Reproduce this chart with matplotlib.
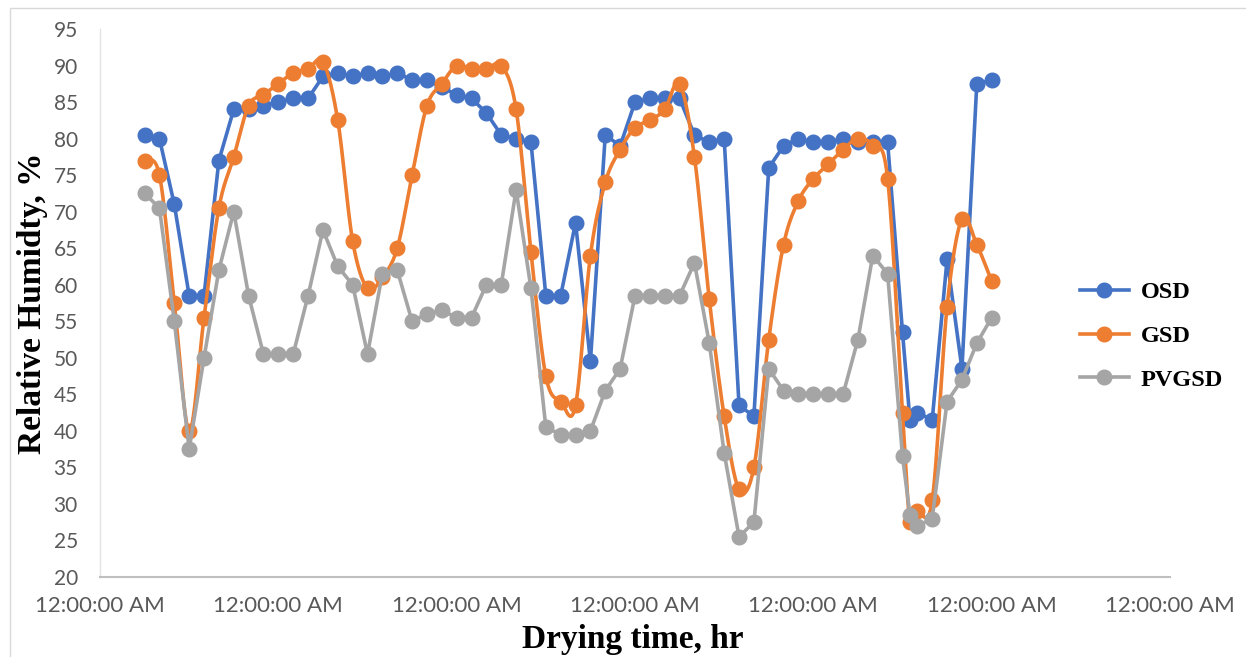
import matplotlib
matplotlib.use("Agg")
import matplotlib.pyplot as plt
import numpy as np
from matplotlib.lines import Line2D
from matplotlib.patches import Rectangle

# Elapsed drying time (h); one reading was logged half-way between 54 h and 55 h
hours = list(range(3, 55)) + [54.5] + list(range(55, 61))

osd = [80.5, 80, 71, 58.5, 58.5, 77, 84, 84, 84.5, 85, 85.5, 85.5, 88.5, 89, 88.5,
       89, 88.5, 89, 88, 88, 87, 86, 85.5, 83.5, 80.5, 80, 79.5, 58.5, 58.5, 68.5,
       49.5, 80.5, 79, 85, 85.5, 85.5, 85.5, 80.5, 79.5, 80, 43.5, 42, 76, 79, 80,
       79.5, 79.5, 80, 79.5, 79.5, 79.5, 53.5, 41.5, 42.5, 41.5, 63.5, 48.5, 87.5, 88]

gsd = [77, 75, 57.5, 40, 55.5, 70.5, 77.5, 84.5, 86, 87.5, 89, 89.5, 90.5, 82.5, 66,
       59.5, 61, 65, 75, 84.5, 87.5, 90, 89.5, 89.5, 90, 84, 64.5, 47.5, 44, 43.5,
       64, 74, 78.5, 81.5, 82.5, 84, 87.5, 77.5, 58, 42, 32, 35, 52.5, 65.5, 71.5,
       74.5, 76.5, 78.5, 80, 79, 74.5, 42.5, 27.5, 29, 30.5, 57, 69, 65.5, 60.5]

pvgsd = [72.5, 70.5, 55, 37.5, 50, 62, 70, 58.5, 50.5, 50.5, 50.5, 58.5, 67.5, 62.5, 60,
         50.5, 61.5, 62, 55, 56, 56.5, 55.5, 55.5, 60, 60, 73, 59.5, 40.5, 39.5, 39.5,
         40, 45.5, 48.5, 58.5, 58.5, 58.5, 58.5, 63, 52, 37, 25.5, 27.5, 48.5, 45.5, 45,
         45, 45, 45, 52.5, 64, 61.5, 36.5, 28.5, 27, 28, 44, 47, 52, 55.5]

x_ticks = [0, 12, 24, 36, 48, 60, 72]
x_tick_labels = ["12:00:00 AM"] * len(x_ticks)
y_ticks = list(range(20, 100, 5))

C_OSD = "#4472C4"
C_GSD = "#ED7D31"
C_PV = "#A5A5A5"


def catmull_rom(x, y, steps=24):
    """Smoothed curve through every point (Catmull-Rom, clamped ends)."""
    pts = np.column_stack([np.asarray(x, float), np.asarray(y, float)])
    pts = np.vstack([pts[0], pts, pts[-1]])
    out = []
    t = np.linspace(0, 1, steps, endpoint=False)[:, None]
    for i in range(1, len(pts) - 2):
        p0, p1, p2, p3 = pts[i - 1], pts[i], pts[i + 1], pts[i + 2]
        seg = 0.5 * (2 * p1 + (-p0 + p2) * t
                     + (2 * p0 - 5 * p1 + 4 * p2 - p3) * t ** 2
                     + (-p0 + 3 * p1 - 3 * p2 + p3) * t ** 3)
        out.append(seg)
    out.append(pts[-2][None, :])
    out = np.vstack(out)
    return out[:, 0], out[:, 1]


W, H = 1246, 657
fig = plt.figure(figsize=(W / 100, H / 100), dpi=100)
ax = fig.add_axes([100 / W, 1 - 577 / H, (1170 - 100) / W, (577 - 29) / H])

lw = 2.6
ms = 10.5

# OSD: straight segments
ax.plot(hours, osd, color=C_OSD, lw=lw, marker="o", ms=ms, zorder=3,
        solid_joinstyle="round")

# GSD: smoothed line
sx, sy = catmull_rom(hours, gsd)
ax.plot(sx, sy, color=C_GSD, lw=lw, zorder=4, solid_joinstyle="round")
ax.plot(hours, gsd, linestyle="none", marker="o", ms=ms, color=C_GSD, zorder=4)

# PVGSD: straight segments
ax.plot(hours, pvgsd, color=C_PV, lw=lw, marker="o", ms=ms, zorder=5,
        solid_joinstyle="round")

ax.set_xlim(0, 72)
ax.set_ylim(20, 95)
ax.set_xticks(x_ticks)
ax.set_xticklabels(x_tick_labels)
ax.set_yticks(y_ticks)

for side in ("top", "right"):
    ax.spines[side].set_visible(False)
ax.spines["bottom"].set_color("#BFBFBF")
ax.spines["bottom"].set_linewidth(1.5)
ax.spines["left"].set_color("#E3E3E3")
ax.spines["left"].set_linewidth(1.0)

ax.tick_params(axis="both", length=0, colors="#595959")
ax.tick_params(axis="y", pad=16)
ax.tick_params(axis="x", pad=14)
for lab in ax.get_xticklabels():
    lab.set_fontfamily(["Lato", "DejaVu Sans"])
    lab.set_fontsize(16)
    lab.set_color("#595959")
for lab in ax.get_yticklabels():
    lab.set_fontfamily(["Lato", "DejaVu Sans"])
    lab.set_fontsize(15)
    lab.set_color("#595959")

title_font = dict(family=["Liberation Serif", "DejaVu Serif"], size=24,
                  weight="bold", color="black")
fig.text(33 / W, 1 - 303 / H, "Relative Humidty, %", rotation=90,
         ha="center", va="center", **title_font)
fig.text(633 / W, 1 - 648 / H, "Drying time, hr", ha="center", va="baseline",
         **title_font)

handles = [
    Line2D([], [], color=C_OSD, lw=lw, marker="o", ms=ms),
    Line2D([], [], color=C_GSD, lw=lw, marker="o", ms=ms),
    Line2D([], [], color=C_PV, lw=lw, marker="o", ms=ms),
]
fig.legend(handles, ["OSD", "GSD", "PVGSD"], loc="center left",
           bbox_to_anchor=(1080 / W, 1 - 336 / H), frameon=False,
           prop=dict(family=["Liberation Serif", "DejaVu Serif"], size=17.5,
                     weight="bold"),
           handlelength=2.0, handletextpad=0.5, labelspacing=0.9,
           borderpad=0, borderaxespad=0)

# chart-area border
fig.patches.append(Rectangle((10 / W, -0.05), 1.2, 1 - 8 / H + 0.05,
                             transform=fig.transFigure, fill=False,
                             edgecolor="#D9D9D9", lw=1.0, zorder=0))

fig.savefig("out.png", dpi=100)
